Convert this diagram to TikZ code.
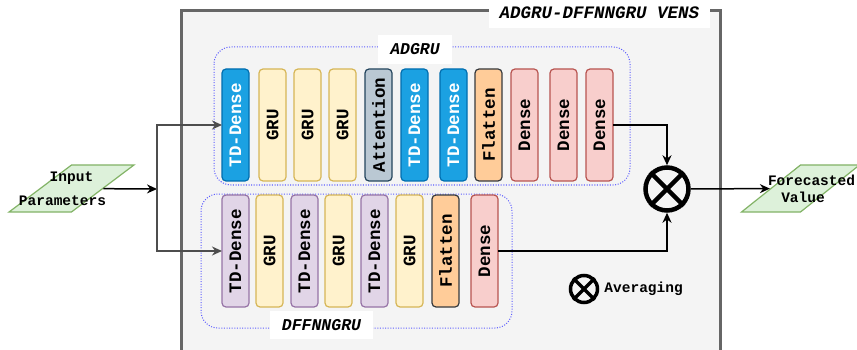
\documentclass[tikz,border=0pt]{standalone}
\usepackage{fontspec}
\setmonofont{Liberation Mono}
\usetikzlibrary{shapes, arrows.meta, positioning}

\definecolor{tdblue}{HTML}{1BA1E2}
\definecolor{tdblueline}{HTML}{006EAF}
\definecolor{gruyellow}{HTML}{FFF2CC}
\definecolor{gruline}{HTML}{D6B656}
\definecolor{attgray}{HTML}{BAC8D3}
\definecolor{attline}{HTML}{23445D}
\definecolor{flatorange}{HTML}{FFCC99}
\definecolor{flatline}{HTML}{36393D}
\definecolor{densered}{HTML}{F8CECC}
\definecolor{denseline}{HTML}{B85450}
\definecolor{tdpurple}{HTML}{E1D5E7}
\definecolor{tdpurpleline}{HTML}{9673A6}
\definecolor{iogreen}{HTML}{DDF1DA}
\definecolor{ioline}{HTML}{82B366}
\definecolor{groupline}{HTML}{5C5CFF}
\definecolor{outerfill}{HTML}{F4F4F4}
\definecolor{outerline}{HTML}{666666}
\definecolor{branch}{HTML}{4D4D4D}

\tikzset{
  layer/.style={draw, rounded corners=4pt, line width=1.2pt, minimum width=27pt,
    minimum height=112pt, inner sep=0pt, outer sep=0pt,
    font=\fontsize{17.5}{20}\selectfont\ttfamily\bfseries},
  tdA/.style={layer, fill=tdblue, draw=tdblueline, text=white},
  tdB/.style={layer, fill=tdpurple, draw=tdpurpleline},
  gru/.style={layer, fill=gruyellow, draw=gruline},
  att/.style={layer, fill=attgray, draw=attline},
  flat/.style={layer, fill=flatorange, draw=flatline},
  dense/.style={layer, fill=densered, draw=denseline},
  io/.style={draw=ioline, fill=iogreen, line width=1.2pt, trapezium, align=center,
    trapezium stretches=true, inner sep=0pt, minimum height=47pt,
    font=\fontsize{14.5}{17}\selectfont\ttfamily\bfseries},
  group/.style={draw=groupline, line width=1pt, dash pattern=on 1pt off 1.6pt,
    rounded corners=17pt},
  caption/.style={fill=white, inner sep=0pt,
    font=\fontsize{16.5}{20}\selectfont\ttfamily\bfseries\itshape},
  avg/.style={circle, draw, line width=4.5pt, minimum size=43pt, inner sep=0pt},
  link/.style={->, line width=1.5pt},
}

\begin{document}
\begin{tikzpicture}[x=1pt, y=-1pt, >={Stealth[length=10pt, width=9pt]}, node distance=9pt]
  \useasboundingbox (0,0) rectangle (857,350);
  \clip (0,0) rectangle (857,350);
  % 外框
  \draw[fill=outerfill, draw=outerline, line width=3pt] (181,11) rectangle (720,380);
  \node[caption, minimum width=221pt, minimum height=30pt, font=\fontsize{17.5}{20}\selectfont\ttfamily\bfseries\itshape] (title) at (599.5,13) {ADGRU-DFFNNGRU VENS};
  % 分组
  \draw[group] (214,47) rectangle (630,185);
  \draw[group] (201,194) rectangle (512,328);
  \node[caption, minimum width=74pt, minimum height=29pt] (adgru) at (415,49.5) {ADGRU};
  \node[caption, minimum width=103pt, minimum height=28pt] (dffnngru) at (321.5,325) {DFFNNGRU};
  % ADGRU 层
  \node[tdA] (tdA1) at (235.5,125) {\rotatebox{90}{TD-Dense}};
  \node[gru, right=10pt of tdA1] (gruA1) {\rotatebox{90}{GRU}};
  \node[gru, right=8pt of gruA1] (gruA2) {\rotatebox{90}{GRU}};
  \node[gru, right=8pt of gruA2] (gruA3) {\rotatebox{90}{GRU}};
  \node[att, right=9pt of gruA3] (attA) {\rotatebox{90}{Attention}};
  \node[tdA, right=9pt of attA] (tdA2) {\rotatebox{90}{TD-Dense}};
  \node[tdA, right=12pt of tdA2] (tdA3) {\rotatebox{90}{TD-Dense}};
  \node[flat, right=8pt of tdA3] (flatA) {\rotatebox{90}{Flatten}};
  \node[dense, right=9pt of flatA] (denseA1) {\rotatebox{90}{Dense}};
  \node[dense, right=12pt of denseA1] (denseA2) {\rotatebox{90}{Dense}};
  \node[dense, right=9pt of denseA2] (denseA3) {\rotatebox{90}{Dense}};
  % DFFNNGRU 层
  \node[tdB] (tdB1) at (235.5,251) {\rotatebox{90}{TD-Dense}};
  \node[gru, right=7pt of tdB1] (gruB1) {\rotatebox{90}{GRU}};
  \node[tdB, right=8pt of gruB1] (tdB2) {\rotatebox{90}{TD-Dense}};
  \node[gru, right=7pt of tdB2] (gruB2) {\rotatebox{90}{GRU}};
  \node[tdB, right=9pt of gruB2] (tdB3) {\rotatebox{90}{TD-Dense}};
  \node[gru, right=8pt of tdB3] (gruB3) {\rotatebox{90}{GRU}};
  \node[flat, right=9pt of gruB3] (flatB) {\rotatebox{90}{Flatten}};
  \node[dense, right=12pt of flatB] (denseB) {\rotatebox{90}{Dense}};
  % 输入输出
  \node[io, trapezium left angle=59, trapezium right angle=121, minimum width=125pt] (input) at (71.5,188.5)
    {\makebox[0pt]{Input}\\[7pt]\makebox[0pt]{Parameters\hspace*{18pt}}};
  \node[io, trapezium left angle=66, trapezium right angle=114, minimum width=118pt] (output) at (800.5,188.5)
    {\makebox[0pt]{\hspace*{22pt}Forecasted}\\[0pt]\makebox[0pt]{\hspace*{5pt}Value}};
  \node[avg] (avg) at (667,189) {};
  \draw[line width=4.5pt] (avg.north west) -- (avg.south east) (avg.north east) -- (avg.south west);
  % 连接
  \coordinate (split) at (157,189);
  \draw[link] (input) -- (split);
  \draw[link, branch] (split) |- (tdA1.west);
  \draw[link, branch] (split) |- (tdB1.west);
  \draw[link] (denseA3.east) -| (avg.north);
  \draw[link] (denseB.east) -| (avg.south);
  \draw[link] (avg) -- (output);
  % 图例
  \node[avg, line width=3.5pt, minimum size=27pt] (legend) at (584,289) {};
  \draw[line width=3.5pt] (legend.north west) -- (legend.south east) (legend.north east) -- (legend.south west);
  \node[right=5pt of legend, inner sep=0pt, font=\fontsize{14.5}{17}\selectfont\ttfamily\bfseries] (legendtext) {Averaging};
\end{tikzpicture}
\end{document}
